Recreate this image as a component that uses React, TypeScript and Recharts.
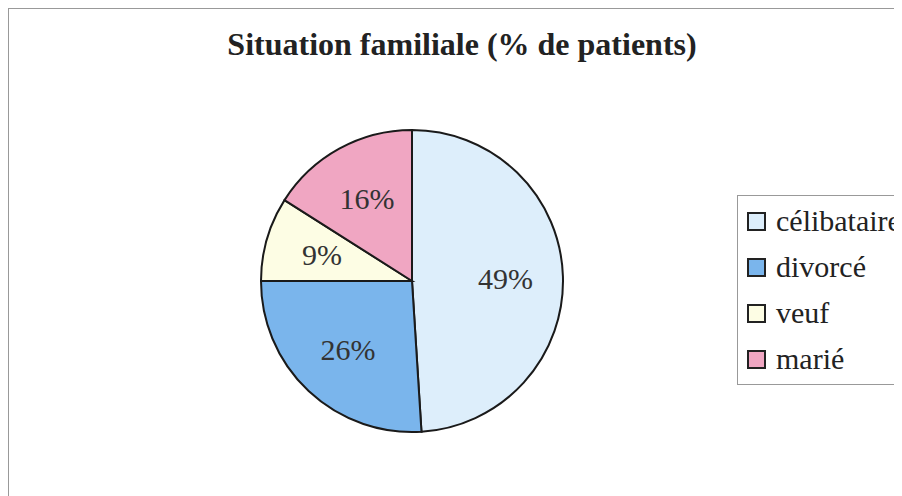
import React from 'react';
import { PieChart, Pie, Cell, Legend } from 'recharts';

const categories = ['célibataire', 'divorcé', 'veuf', 'marié'];
const percentages = [49, 26, 9, 16];
const COLORS = ['#DDEEFB', '#7AB5EC', '#FDFDE4', '#F0A6C2'];

const FONT = "'Liberation Serif', 'Times New Roman', serif";
const RADIAN = Math.PI / 180;

const chartData = categories.map((name, i) => ({ name, value: percentages[i] }));

const renderLabel = (props: any) => {
  const { cx, cy, midAngle, outerRadius, value } = props;
  const r = outerRadius * 0.62;
  const x = cx + r * Math.cos(-midAngle * RADIAN);
  const y = cy + r * Math.sin(-midAngle * RADIAN);
  return (
    <text
      x={x}
      y={y}
      textAnchor="middle"
      dominantBaseline="central"
      fill="#333"
      style={{ fontFamily: FONT, fontSize: 30 }}
    >
      {`${value}%`}
    </text>
  );
};

const renderLegend = () => (
  <div
    style={{
      border: '1px solid #999',
      background: '#fff',
      padding: '2px 0 2px 9px',
      fontFamily: FONT,
      fontSize: 30,
      color: '#222',
    }}
  >
    {chartData.map((item, index) => (
      <div key={item.name} style={{ display: 'flex', alignItems: 'center', height: 46 }}>
        <div
          style={{
            width: 15,
            height: 15,
            border: '2px solid #222',
            backgroundColor: COLORS[index],
            marginRight: 10,
            flexShrink: 0,
          }}
        />
        <span style={{ whiteSpace: 'nowrap' }}>{item.name}</span>
      </div>
    ))}
  </div>
);

const App: React.FC = () => {
  return (
    <div
      style={{
        position: 'relative',
        width: 894,
        height: 488,
        boxSizing: 'border-box',
        borderTop: '1.5px solid #999',
        borderLeft: '1.5px solid #999',
        overflow: 'hidden',
        background: '#fff',
      }}
    >
      <div
        style={{
          position: 'absolute',
          top: 19,
          left: 0,
          width: 906,
          textAlign: 'center',
          fontFamily: FONT,
          fontWeight: 'bold',
          fontSize: 32,
          lineHeight: '32px',
          color: '#222',
          zIndex: 2,
        }}
      >
        Situation familiale (% de patients)
      </div>
      <PieChart width={893} height={487} margin={{ top: 0, right: 0, bottom: 0, left: 0 }}>
        <Pie
          data={chartData}
          dataKey="value"
          nameKey="name"
          cx={403}
          cy={272}
          outerRadius={151}
          startAngle={90}
          endAngle={-270}
          stroke="#1a1a1a"
          strokeWidth={2}
          labelLine={false}
          label={renderLabel}
          isAnimationActive={false}
        >
          {chartData.map((entry, index) => (
            <Cell key={`cell-${index}`} fill={COLORS[index]} />
          ))}
        </Pie>
        <Legend
          content={renderLegend}
          wrapperStyle={{ left: 728, top: 186, width: 200 }}
        />
      </PieChart>
    </div>
  );
};

export default App;
